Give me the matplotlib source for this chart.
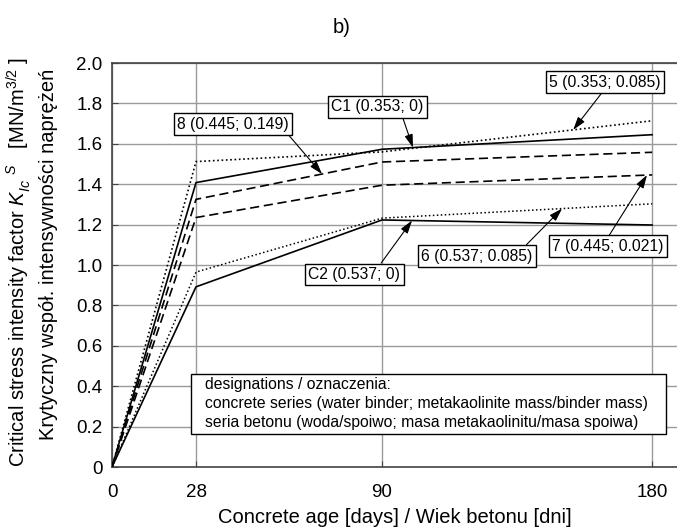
import numpy as np
import matplotlib
matplotlib.use("Agg")
import matplotlib.pyplot as plt
from matplotlib.patches import Rectangle

plt.rcParams["font.family"] = ["Liberation Sans", "DejaVu Sans"]
plt.rcParams["mathtext.fontset"] = "custom"
plt.rcParams["mathtext.rm"] = "Liberation Sans"
plt.rcParams["mathtext.it"] = "Liberation Sans:italic"

# ---------------------------------------------------------------------------
# Data: critical stress intensity factor K_Ic^S [MN/m^3/2] vs concrete age
# ---------------------------------------------------------------------------
days = [0, 28, 90, 180]
k_5 = [0.0, 1.512, 1.56, 1.714]     # 5 (0.353; 0.085)
k_c1 = [0.0, 1.408, 1.573, 1.645]   # C1 (0.353; 0)
k_8 = [0.0, 1.325, 1.51, 1.558]     # 8 (0.445; 0.149)
k_7 = [0.0, 1.235, 1.395, 1.446]    # 7 (0.445; 0.021)
k_6 = [0.0, 0.965, 1.232, 1.303]    # 6 (0.537; 0.085)
k_c2 = [0.0, 0.892, 1.223, 1.198]   # C2 (0.537; 0)

labels = ["5 (0.353; 0.085)", "C1 (0.353; 0)", "8 (0.445; 0.149)",
          "7 (0.445; 0.021)", "6 (0.537; 0.085)", "C2 (0.537; 0)"]

DOT = (0, (1, 1.6))
DASH = (0, (5.5, 2.8))
series = [
    (k_5, DOT, 1.2),
    (k_c1, "-", 1.2),
    (k_8, DASH, 1.2),
    (k_7, DASH, 1.2),
    (k_6, DOT, 1.1),
    (k_c2, "-", 1.2),
]

# annotation: (label index, arrow-tip day, text centre in axes frac, relpos)
notes = [
    (2, 70.0, (0.214, 0.848), (0.975, 0.0)),
    (1, 100.3, (0.470, 0.892), (0.76, 0.0)),
    (0, 153.7, (0.873, 0.952), (0.49, 0.0)),
    (3, 178.3, (0.878, 0.546), (0.49, 1.0)),
    (4, 150.0, (0.646, 0.522), (0.91, 1.0)),
    (5, 100.0, (0.429, 0.4765), (0.76, 1.0)),
]

W, H = 677, 530
fig = plt.figure(figsize=(W / 100, H / 100), dpi=100)
ax = fig.add_axes([112 / W, 1 - 467 / H, 1 - 112 / W, 404 / H])

for vals, ls, lw in series:
    ax.plot(days, vals, color="black", ls=ls, lw=lw, zorder=3)

ax.set_xlim(0, 188.3)
ax.set_ylim(0, 2.0)
ax.set_xticks(days)
ax.set_xticklabels(["0", "28", "90", "180"])
ax.set_yticks(np.arange(0, 2.01, 0.2))
ax.set_yticklabels(["0"] + [f"{v:.1f}" for v in np.arange(0.2, 2.01, 0.2)])
ax.tick_params(direction="in", length=4, width=0.8, labelsize=13.5,
               color="#444444")
ax.tick_params(axis="x", pad=12)
ax.tick_params(axis="y", pad=7)
ax.grid(True, color="#9a9a9a", lw=1.0)
ax.set_axisbelow(True)
ax.spines["right"].set_visible(False)
for s in ["left", "top", "bottom"]:
    ax.spines[s].set_color("#444444")
    ax.spines[s].set_linewidth(1.2)

for idx, day, pos, rel in notes:
    tip_y = np.interp(day, days, series[idx][0])
    ax.annotate(labels[idx], xy=(day, tip_y), xytext=pos,
                textcoords="axes fraction", ha="center", va="center",
                fontsize=11.3, zorder=5,
                bbox=dict(boxstyle="square,pad=0.22", fc="white",
                          ec="black", lw=1.0),
                arrowprops=dict(arrowstyle="-|>,head_length=0.7,head_width=0.22",
                                color="black", lw=0.8, relpos=rel,
                                shrinkA=0, shrinkB=0))

# designation box
ax.add_patch(Rectangle((0.140, 0.0817), 0.841, 0.148, transform=ax.transAxes,
                       fc="white", ec="black", lw=1.0, zorder=4))
legend_lines = [
    "designations / oznaczenia:",
    "concrete series (water binder; metakaolinite mass/binder mass)",
    "seria betonu (woda/spoiwo; masa metakaolinitu/masa spoiwa)",
]
for txt, yy in zip(legend_lines, [0.203, 0.156, 0.111]):
    ax.text(0.165, yy, txt, transform=ax.transAxes, ha="left", va="center",
            fontsize=11.3, zorder=5)

ax.set_xlabel("Concrete age [days] / Wiek betonu [dni]", fontsize=14.5,
              labelpad=5)
fig.text(0.027, 0.505,
         r"Critical stress intensity factor $K_{Ic}^{\ \ \ \ S}$   "
         r"[MN/m$^{3/2}$ ]",
         rotation=90, ha="center", va="center", fontsize=14.5)
fig.text(0.071, 0.52, "Krytyczny współ. intensywności naprężeń",
         rotation=90, ha="center", va="center", fontsize=14.5)
fig.text(0.505, 0.948, "b)", ha="center", va="center", fontsize=14.5)

fig.savefig("out.png", dpi=100)
